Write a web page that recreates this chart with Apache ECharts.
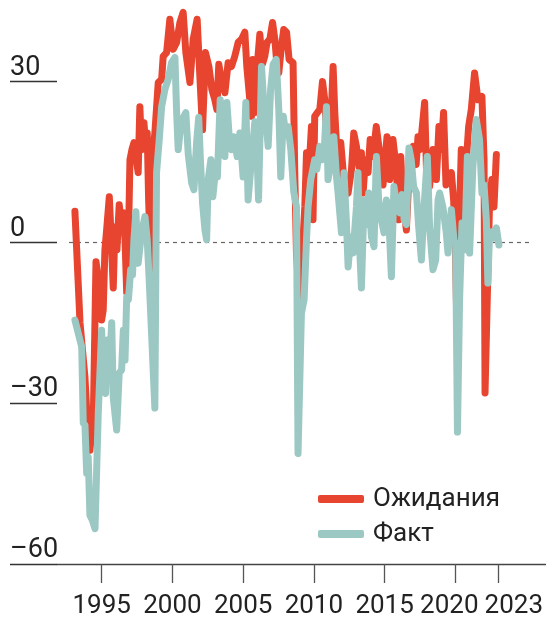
<!DOCTYPE html>
<html>
<head>
<meta charset="utf-8">
<script src="https://cdn.jsdelivr.net/npm/echarts@6/dist/echarts.min.js"></script>
<style>
html,body{margin:0;padding:0;background:#fff;}
#chart{width:546px;height:630px;}
</style>
</head>
<body>
<div id="chart"></div>
<script>
// Series names
const seriesNames = ['Ожидания', 'Факт'];

// Ожидания (expectations)
const redYears = [1993.11,1993.47,1993.82,1993.94,1994.17,1994.41,1994.60,1994.88,1995.00,1995.11,1995.23,1995.35,1995.54,1995.71,1995.82,1995.94,1996.08,1996.24,1996.41,1996.53,1996.65,1996.77,1996.88,1997.00,1997.14,1997.28,1997.42,1997.58,1997.70,1997.82,1997.99,1998.13,1998.22,1998.32,1998.53,1998.64,1998.76,1999.00,1999.24,1999.35,1999.59,1999.82,2000.06,2000.30,2000.53,2000.76,2000.95,2001.24,2001.47,2001.75,2001.94,2002.13,2002.34,2002.58,2002.79,2003.00,2003.14,2003.28,2003.50,2003.71,2003.94,2004.18,2004.41,2004.65,2004.89,2005.12,2005.26,2005.47,2005.59,2005.68,2005.83,2005.99,2006.18,2006.36,2006.53,2006.69,2006.89,2007.08,2007.24,2007.40,2007.52,2007.71,2007.87,2008.07,2008.25,2008.53,2008.65,2008.77,2009.00,2009.12,2009.24,2009.36,2009.48,2009.59,2009.71,2009.83,2009.94,2010.06,2010.25,2010.42,2010.61,2010.77,2010.93,2011.12,2011.36,2011.48,2011.71,2011.90,2012.04,2012.18,2012.42,2012.66,2012.82,2013.01,2013.19,2013.36,2013.48,2013.64,2013.83,2013.98,2014.18,2014.41,2014.65,2014.89,2015.17,2015.36,2015.59,2015.83,2016.00,2016.14,2016.30,2016.54,2016.77,2017.01,2017.23,2017.36,2017.51,2017.83,2017.97,2018.18,2018.42,2018.66,2018.84,2019.00,2019.17,2019.34,2019.53,2019.72,2019.88,2019.99,2020.13,2020.27,2020.42,2020.66,2020.94,2021.13,2021.36,2021.60,2021.88,2022.03,2022.10,2022.30,2022.42,2022.58,2022.73,2022.90];
const redValues = [5.8,-15.0,-25.2,-31.3,-38.8,-32.6,-3.6,-8.9,-14.5,-12.6,-1.4,2.3,8.5,-1.4,-8.5,2.9,-1.4,7.0,2.9,5.5,0.5,-9.4,-1.4,15.4,17.3,18.6,18.6,13.0,25.3,17.3,22.3,17.3,20.4,7.9,-8.9,17.3,20.4,29.8,30.4,34.7,35.4,41.6,36.0,37.3,41.0,42.9,35.4,29.8,37.9,41.6,31.0,21.0,35.4,32.8,28.5,26.6,24.8,33.2,29.8,27.9,33.5,32.8,34.7,37.3,37.9,39.2,32.8,26.6,23.5,34.1,24.2,32.8,38.8,33.2,34.7,37.3,37.9,41.0,37.9,32.8,31.6,36.6,39.7,39.2,34.1,33.5,13.0,-2.0,-11.3,-0.8,1.0,6.6,16.7,4.2,16.0,21.6,4.2,23.5,24.2,24.8,30.0,26.6,19.2,16.4,32.8,24.2,13.0,18.6,18.6,9.8,9.2,13.6,20.4,17.9,14.1,16.7,9.2,15.4,13.0,19.2,16.0,21.6,16.7,10.7,19.7,11.7,19.2,13.6,4.2,16.0,7.9,2.3,15.4,17.9,14.5,19.7,17.3,26.1,12.6,10.4,17.3,11.7,21.6,17.3,24.2,10.7,11.7,13.0,7.9,0.5,-18.2,2.9,17.3,10.4,21.6,24.8,31.6,26.6,27.2,15.4,-28.1,-5.7,7.4,11.7,6.6,16.4];

// Факт (actual)
const tealYears = [1993.11,1993.59,1993.70,1993.82,1993.94,1994.05,1994.17,1994.35,1994.53,1994.76,1995.00,1995.11,1995.28,1995.40,1995.54,1995.71,1995.82,1996.06,1996.24,1996.41,1996.53,1996.65,1996.77,1996.89,1997.05,1997.18,1997.28,1997.42,1997.58,1997.82,1998.06,1998.22,1998.36,1998.76,1998.88,1999.07,1999.24,1999.47,1999.70,1999.94,2000.18,2000.30,2000.41,2000.58,2000.81,2000.95,2001.12,2001.36,2001.52,2001.71,2001.86,2001.98,2002.13,2002.30,2002.42,2002.53,2002.72,2002.86,2003.00,2003.18,2003.38,2003.57,2003.71,2003.85,2004.03,2004.18,2004.34,2004.58,2004.77,2005.00,2005.19,2005.35,2005.59,2005.83,2005.97,2006.09,2006.30,2006.46,2006.60,2006.77,2006.94,2007.12,2007.34,2007.52,2007.66,2007.84,2008.02,2008.18,2008.37,2008.58,2008.77,2008.88,2009.12,2009.31,2009.48,2009.59,2009.78,2009.92,2010.06,2010.21,2010.42,2010.59,2010.72,2010.89,2011.00,2011.19,2011.41,2011.60,2011.71,2011.95,2012.13,2012.30,2012.42,2012.61,2012.77,2013.01,2013.12,2013.21,2013.36,2013.55,2013.70,2013.88,2014.07,2014.25,2014.42,2014.58,2014.77,2014.96,2015.13,2015.29,2015.48,2015.66,2015.85,2016.07,2016.24,2016.38,2016.54,2016.72,2016.88,2017.05,2017.25,2017.41,2017.60,2017.78,2018.02,2018.18,2018.42,2018.61,2018.78,2018.89,2019.12,2019.36,2019.48,2019.72,2019.90,2020.02,2020.15,2020.30,2020.47,2020.66,2020.85,2021.01,2021.24,2021.48,2021.71,2021.88,2022.03,2022.19,2022.30,2022.42,2022.58,2022.74,2022.90,2023.08];
const tealValues = [-14.5,-19.5,-33.7,-34.1,-43.1,-40.1,-50.9,-51.9,-53.4,-31.9,-16.4,-27.0,-28.2,-18.2,-23.8,-15.0,-28.9,-35.0,-24.4,-23.8,-16.4,-22.0,-10.2,-10.7,-5.1,-6.1,0.5,5.7,-3.9,1.8,4.8,0.5,-7.0,-30.9,13.0,19.2,25.3,28.5,30.4,33.5,34.5,24.2,17.3,21.6,23.5,24.2,16.4,11.1,9.8,18.6,23.3,15.4,7.4,2.3,0.5,11.7,15.4,8.5,12.2,12.2,26.6,21.0,16.0,26.1,19.2,17.3,19.7,16.0,20.4,12.2,26.1,7.9,15.4,22.5,17.3,7.9,32.8,25.7,22.9,17.9,28.5,33.2,34.1,24.8,12.2,23.5,20.1,21.6,17.3,9.4,6.6,-39.4,-13.2,-10.7,0.5,6.6,11.7,12.0,15.4,13.6,17.9,15.4,16.4,25.3,11.7,14.5,19.7,12.2,9.2,1.8,13.0,3.8,-4.6,1.0,-2.0,6.6,13.0,0.5,-8.5,7.9,3.3,9.2,1.0,-0.8,16.0,7.9,4.2,1.8,7.9,5.1,-6.4,10.4,7.0,5.5,8.9,4.2,3.3,17.6,15.4,10.4,9.2,2.9,-3.3,6.1,16.0,2.9,-5.1,-3.3,7.9,9.2,6.6,1.8,-2.0,6.1,0.5,-0.5,-35.4,-10.7,3.6,-1.4,16.0,-2.0,14.1,22.9,19.2,9.2,10.7,4.2,-7.6,1.8,2.0,0.8,2.7,-0.5];

// Axis ticks
const xTicks = [1995, 2000, 2005, 2010, 2015, 2020, 2023];
const yTicks = [-60, -30, 0, 30];
const zeroLineSpan = [1992.69, 2025.25];

const FONT = "Roboto, 'Liberation Sans', sans-serif";
const RED = '#E84530';
const TEAL = '#9BC8C3';
const FS = 26;

const pair = (xs, ys) => xs.map((x, i) => [x, ys[i]]);

const chart = echarts.init(document.getElementById('chart'), null, {renderer: 'canvas'});
chart.setOption({
  animation: false,
  backgroundColor: '#fff',
  grid: {left: 57, right: 0, top: 0, bottom: 66, containLabel: false},
  xAxis: {
    type: 'value',
    min: 1991.843,
    max: 2026.377,
    axisLine: {show: true, onZero: false, lineStyle: {color: '#444', width: 1.3}},
    axisTick: {show: true, customValues: xTicks, length: 19, lineStyle: {color: '#555', width: 1.3}},
    axisLabel: {
      customValues: xTicks, margin: 29, fontSize: FS, fontFamily: FONT, color: '#222',
      hideOverlap: false, showMinLabel: true, showMaxLabel: true,
      formatter: v => (v === 2020 ? '{l|2020}' : v === 2023 ? '{r|2023}' : String(v)),
      rich: {
        l: {fontSize: FS, fontFamily: FONT, color: '#222', padding: [0, 12, 0, 0]},
        r: {fontSize: FS, fontFamily: FONT, color: '#222', padding: [0, 0, 0, 32]}
      }
    },
    splitLine: {show: false}
  },
  yAxis: {
    type: 'value',
    min: -60,
    max: 45.2,
    axisLine: {show: false},
    axisTick: {show: true, customValues: yTicks, length: 47, lineStyle: {color: '#333', width: 1.3}},
    axisLabel: {customValues: yTicks, margin: 47, align: 'left', verticalAlign: 'bottom',
      fontSize: FS + 1, fontFamily: FONT, color: '#222', hideOverlap: false,
      formatter: v => String(v).replace('-', '\u2013')},
    splitLine: {show: false}
  },
  legend: {
    data: seriesNames,
    orient: 'vertical',
    left: 313,
    top: 481,
    itemWidth: 46,
    itemHeight: 8,
    itemGap: 9,
    icon: 'roundRect',
    textStyle: {fontSize: FS, fontFamily: FONT, color: '#222', lineHeight: 26, padding: [0, 0, 0, 4]}
  },
  series: [
    {
      name: seriesNames[0],
      type: 'line',
      data: pair(redYears, redValues),
      symbol: 'none',
      color: RED,
      lineStyle: {color: RED, width: 7, cap: 'round', join: 'round'},
      z: 2,
      markLine: {
        silent: true,
        symbol: 'none',
        label: {show: false},
        lineStyle: {color: '#666', width: 1.2, type: [4, 4]},
        data: [[{coord: [zeroLineSpan[0], 0]}, {coord: [zeroLineSpan[1], 0]}]],
        z: 1
      }
    },
    {
      name: seriesNames[1],
      type: 'line',
      data: pair(tealYears, tealValues),
      symbol: 'none',
      color: TEAL,
      lineStyle: {color: TEAL, width: 7, cap: 'round', join: 'round'},
      z: 3
    }
  ]
});
</script>
</body>
</html>
